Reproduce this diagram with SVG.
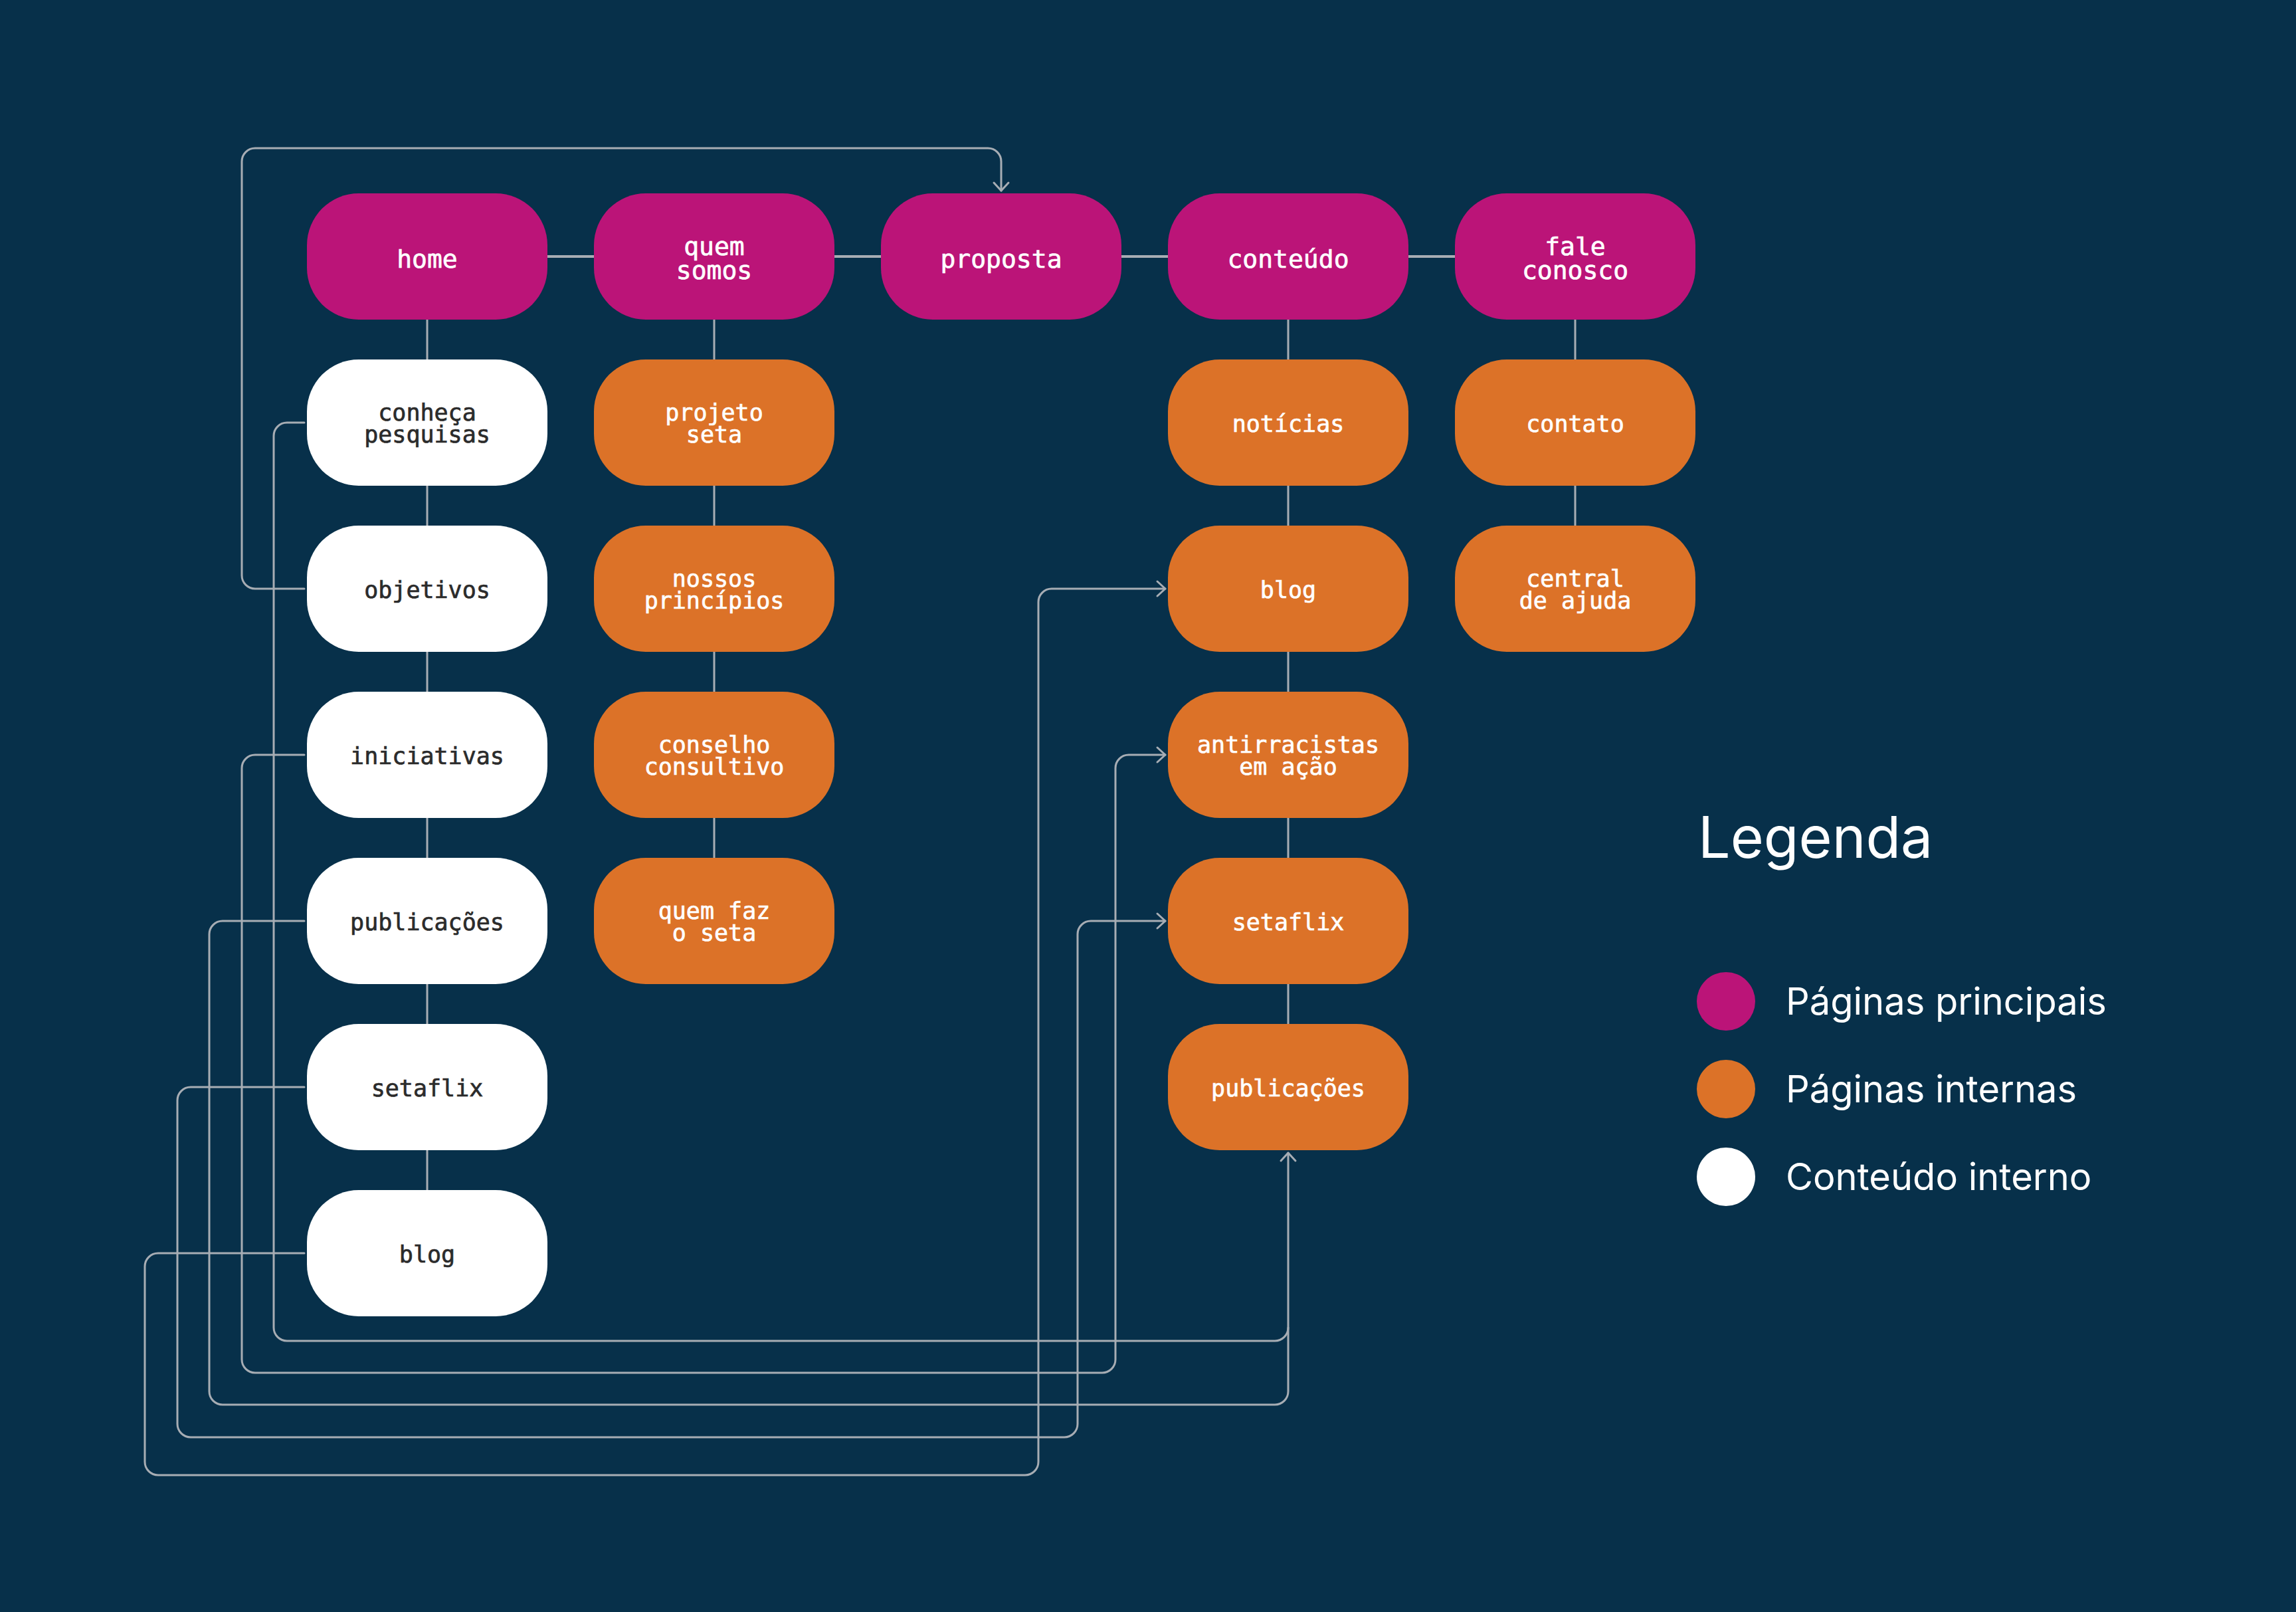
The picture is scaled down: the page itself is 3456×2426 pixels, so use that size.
<svg xmlns="http://www.w3.org/2000/svg" width="3456" height="2426" viewBox="0 0 3456 2426">
  <style>
    .bg { fill: #07304A; }
    .main { fill: #BB1478; }
    .int { fill: #DC7228; }
    .cont { fill: #FFFFFF; }
    .lbl { font-family: "DejaVu Sans Mono", "Liberation Mono", monospace; text-anchor: middle; stroke-width: 0.7px; }
    .lt { fill: #FFFFFF; stroke: #FFFFFF; font-size: 38px; }
    .ls { font-size: 35px; }
    .w { fill: #FFFFFF; stroke: #FFFFFF; }
    .d { fill: #2B2B2B; stroke: #2B2B2B; }
    .conn { fill: none; stroke: #A7ADB4; stroke-width: 3; stroke-linecap: round; stroke-linejoin: round; }
    .connTop { fill: none; stroke: #A7ADB4; stroke-width: 4; }
    .leg { font-family: Inter, "Noto Sans", "Liberation Sans", sans-serif; fill: #FFFFFF; }
  </style>
  <defs>
    <marker id="arr" viewBox="-16 -16 20 32" refX="0" refY="0" markerWidth="20" markerHeight="32" markerUnits="userSpaceOnUse" orient="auto">
      <path d="M-12,-11 L0,0 L-12,11" fill="none" stroke="#A7ADB4" stroke-width="3" stroke-linecap="round" stroke-linejoin="round"/>
    </marker>
  </defs>

  <rect class="bg" x="0" y="0" width="3456" height="2426"/>

  <g id="connectors">
    <!-- top row horizontal -->
    <line class="connTop" x1="824" y1="386" x2="894" y2="386"/>
    <line class="connTop" x1="1256" y1="386" x2="1326" y2="386"/>
    <line class="connTop" x1="1688" y1="386" x2="1758" y2="386"/>
    <line class="connTop" x1="2120" y1="386" x2="2190" y2="386"/>
    <!-- home column vertical -->
    <line class="conn" x1="643" y1="481" x2="643" y2="541"/>
    <line class="conn" x1="643" y1="731" x2="643" y2="791"/>
    <line class="conn" x1="643" y1="981" x2="643" y2="1041"/>
    <line class="conn" x1="643" y1="1231" x2="643" y2="1291"/>
    <line class="conn" x1="643" y1="1481" x2="643" y2="1541"/>
    <line class="conn" x1="643" y1="1731" x2="643" y2="1791"/>
    <!-- quem somos column -->
    <line class="conn" x1="1075" y1="481" x2="1075" y2="541"/>
    <line class="conn" x1="1075" y1="731" x2="1075" y2="791"/>
    <line class="conn" x1="1075" y1="981" x2="1075" y2="1041"/>
    <line class="conn" x1="1075" y1="1231" x2="1075" y2="1291"/>
    <!-- conteudo column -->
    <line class="conn" x1="1939" y1="481" x2="1939" y2="541"/>
    <line class="conn" x1="1939" y1="731" x2="1939" y2="791"/>
    <line class="conn" x1="1939" y1="981" x2="1939" y2="1041"/>
    <line class="conn" x1="1939" y1="1231" x2="1939" y2="1291"/>
    <line class="conn" x1="1939" y1="1481" x2="1939" y2="1541"/>
    <!-- fale conosco column -->
    <line class="conn" x1="2371" y1="481" x2="2371" y2="541"/>
    <line class="conn" x1="2371" y1="731" x2="2371" y2="791"/>

    <!-- objetivos -> proposta -->
    <path class="conn" d="M458,886 H384 A20,20 0 0 1 364,866 V243 A20,20 0 0 1 384,223 H1487 A20,20 0 0 1 1507,243 V287" marker-end="url(#arr)"/>
    <!-- conheca pesquisas -> publicacoes -->
    <path class="conn" d="M458,636 H432 A20,20 0 0 0 412,656 V1998 A20,20 0 0 0 432,2018 H1919 A20,20 0 0 0 1939,1998 V1735" marker-end="url(#arr)"/>
    <!-- iniciativas -> antirracistas -->
    <path class="conn" d="M458,1136 H384 A20,20 0 0 0 364,1156 V2046 A20,20 0 0 0 384,2066 H1659 A20,20 0 0 0 1679,2046 V1156 A20,20 0 0 1 1699,1136 H1754" marker-end="url(#arr)"/>
    <!-- publicacoes -> publicacoes -->
    <path class="conn" d="M458,1386 H335 A20,20 0 0 0 315,1406 V2094 A20,20 0 0 0 335,2114 H1919 A20,20 0 0 0 1939,2094 V1998"/>
    <!-- setaflix -> setaflix -->
    <path class="conn" d="M458,1636 H287 A20,20 0 0 0 267,1656 V2143 A20,20 0 0 0 287,2163 H1602 A20,20 0 0 0 1622,2143 V1406 A20,20 0 0 1 1642,1386 H1754" marker-end="url(#arr)"/>
    <!-- blog -> blog -->
    <path class="conn" d="M458,1886 H238 A20,20 0 0 0 218,1906 V2200 A20,20 0 0 0 238,2220 H1543 A20,20 0 0 0 1563,2200 V906 A20,20 0 0 1 1583,886 H1754" marker-end="url(#arr)"/>
  </g>

  <!-- Top row -->
  <g id="home"><rect class="main" x="462" y="291" width="362" height="190" rx="78"/><text class="lbl lt" x="643" y="403">home</text></g>
  <g id="quem-somos"><rect class="main" x="894" y="291" width="362" height="190" rx="78"/><text class="lbl lt" x="1075" y="384">quem</text><text class="lbl lt" x="1075" y="420">somos</text></g>
  <g id="proposta"><rect class="main" x="1326" y="291" width="362" height="190" rx="78"/><text class="lbl lt" x="1507" y="403">proposta</text></g>
  <g id="conteudo"><rect class="main" x="1758" y="291" width="362" height="190" rx="78"/><text class="lbl lt" x="1939" y="403">conteúdo</text></g>
  <g id="fale-conosco"><rect class="main" x="2190" y="291" width="362" height="190" rx="78"/><text class="lbl lt" x="2371" y="384">fale</text><text class="lbl lt" x="2371" y="420">conosco</text></g>

  <!-- home column -->
  <g id="conheca-pesquisas"><rect class="cont" x="462" y="541" width="362" height="190" rx="78"/><text class="lbl ls d" x="643" y="633">conheça</text><text class="lbl ls d" x="643" y="666">pesquisas</text></g>
  <g id="objetivos"><rect class="cont" x="462" y="791" width="362" height="190" rx="78"/><text class="lbl ls d" x="643" y="900">objetivos</text></g>
  <g id="iniciativas"><rect class="cont" x="462" y="1041" width="362" height="190" rx="78"/><text class="lbl ls d" x="643" y="1150">iniciativas</text></g>
  <g id="publicacoes-home"><rect class="cont" x="462" y="1291" width="362" height="190" rx="78"/><text class="lbl ls d" x="643" y="1400">publicações</text></g>
  <g id="setaflix-home"><rect class="cont" x="462" y="1541" width="362" height="190" rx="78"/><text class="lbl ls d" x="643" y="1650">setaflix</text></g>
  <g id="blog-home"><rect class="cont" x="462" y="1791" width="362" height="190" rx="78"/><text class="lbl ls d" x="643" y="1900">blog</text></g>

  <!-- quem somos column -->
  <g id="projeto-seta"><rect class="int" x="894" y="541" width="362" height="190" rx="78"/><text class="lbl ls w" x="1075" y="633">projeto</text><text class="lbl ls w" x="1075" y="666">seta</text></g>
  <g id="nossos-principios"><rect class="int" x="894" y="791" width="362" height="190" rx="78"/><text class="lbl ls w" x="1075" y="883">nossos</text><text class="lbl ls w" x="1075" y="916">princípios</text></g>
  <g id="conselho-consultivo"><rect class="int" x="894" y="1041" width="362" height="190" rx="78"/><text class="lbl ls w" x="1075" y="1133">conselho</text><text class="lbl ls w" x="1075" y="1166">consultivo</text></g>
  <g id="quem-faz-o-seta"><rect class="int" x="894" y="1291" width="362" height="190" rx="78"/><text class="lbl ls w" x="1075" y="1383">quem faz</text><text class="lbl ls w" x="1075" y="1416">o seta</text></g>

  <!-- conteudo column -->
  <g id="noticias"><rect class="int" x="1758" y="541" width="362" height="190" rx="78"/><text class="lbl ls w" x="1939" y="650">notícias</text></g>
  <g id="blog"><rect class="int" x="1758" y="791" width="362" height="190" rx="78"/><text class="lbl ls w" x="1939" y="900">blog</text></g>
  <g id="antirracistas-em-acao"><rect class="int" x="1758" y="1041" width="362" height="190" rx="78"/><text class="lbl ls w" x="1939" y="1133">antirracistas</text><text class="lbl ls w" x="1939" y="1166">em ação</text></g>
  <g id="setaflix"><rect class="int" x="1758" y="1291" width="362" height="190" rx="78"/><text class="lbl ls w" x="1939" y="1400">setaflix</text></g>
  <g id="publicacoes"><rect class="int" x="1758" y="1541" width="362" height="190" rx="78"/><text class="lbl ls w" x="1939" y="1650">publicações</text></g>

  <!-- fale conosco column -->
  <g id="contato"><rect class="int" x="2190" y="541" width="362" height="190" rx="78"/><text class="lbl ls w" x="2371" y="650">contato</text></g>
  <g id="central-de-ajuda"><rect class="int" x="2190" y="791" width="362" height="190" rx="78"/><text class="lbl ls w" x="2371" y="883">central</text><text class="lbl ls w" x="2371" y="916">de ajuda</text></g>

  <!-- Legend -->
  <g id="legend">
    <text class="leg" x="2556" y="1291" font-size="86">Legenda</text>
    <circle class="main" cx="2598" cy="1507" r="44"/>
    <text class="leg" x="2688" y="1527" font-size="56">Páginas principais</text>
    <circle class="int" cx="2598" cy="1639" r="44"/>
    <text class="leg" x="2688" y="1659" font-size="56">Páginas internas</text>
    <circle class="cont" cx="2598" cy="1771" r="44"/>
    <text class="leg" x="2688" y="1791" font-size="56">Conteúdo interno</text>
  </g>
</svg>
